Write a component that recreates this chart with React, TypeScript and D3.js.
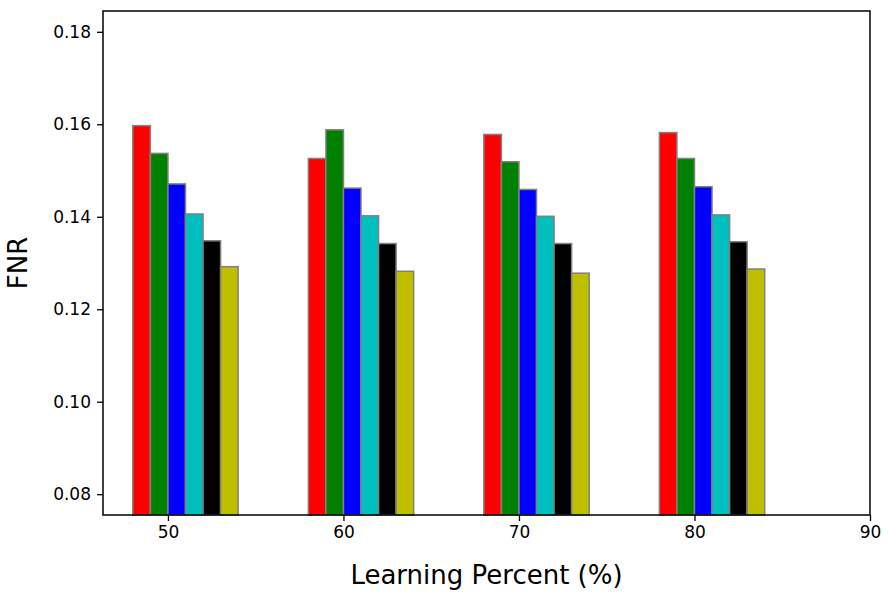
import { useEffect, useRef } from "react";
import * as d3 from "d3";

const groups = [50, 60, 70, 80];
const colors = ["#ff0000", "#008000", "#0000ff", "#00bfbf", "#000000", "#bfbf00"];
const red = [0.1597, 0.1526, 0.1578, 0.1582];
const green = [0.1537, 0.1588, 0.1519, 0.1526];
const blue = [0.1471, 0.1462, 0.1459, 0.1465];
const cyan = [0.1406, 0.1402, 0.1401, 0.1404];
const black = [0.1348, 0.1342, 0.1342, 0.1346];
const yellow = [0.1292, 0.1282, 0.1278, 0.1287];
const series = [red, green, blue, cyan, black, yellow];
const xTicks = [50, 60, 70, 80, 90];
const yTicks = [0.08, 0.1, 0.12, 0.14, 0.16, 0.18];

const App = () => {
  const ref = useRef<SVGSVGElement | null>(null);

  useEffect(() => {
    if (!ref.current) return;
    const svg = d3.select(ref.current);
    svg.selectAll("*").remove();
    const width = 889;
    const height = 598;
    const margin = { top: 11, right: 19, bottom: 83, left: 103 };
    const font = "DejaVu Sans, sans-serif";

    const x = d3.scaleLinear().domain([46.3, 90]).range([margin.left, width - margin.right]);
    const y = d3.scaleLinear().domain([0.0755, 0.1845]).range([height - margin.bottom, margin.top]);

    const bars: { x0: number; v: number; c: string }[] = [];
    series.forEach((s, i) =>
      s.forEach((v, g) => bars.push({ x0: groups[g] - 2 + i, v, c: colors[i] }))
    );

    svg
      .append("g")
      .selectAll("rect")
      .data(bars)
      .enter()
      .append("rect")
      .attr("x", (d) => x(d.x0))
      .attr("width", x(1) - x(0))
      .attr("y", (d) => y(d.v))
      .attr("height", (d) => y.range()[0] - y(d.v))
      .attr("fill", (d) => d.c)
      .attr("stroke", "#808080")
      .attr("stroke-width", 1.5);

    const xa = svg
      .append("g")
      .attr("transform", `translate(0,${height - margin.bottom})`)
      .call(d3.axisBottom(x).tickValues(xTicks).tickFormat(d3.format("d")).tickSize(6).tickPadding(5));
    const ya = svg
      .append("g")
      .attr("transform", `translate(${margin.left},0)`)
      .call(d3.axisLeft(y).tickValues(yTicks).tickFormat(d3.format(".2f")).tickSize(6).tickPadding(6));
    [xa, ya].forEach((a) => {
      a.select(".domain").remove();
      a.selectAll("line").attr("stroke", "#000").attr("stroke-width", 1.3);
      a.selectAll("text").attr("font-family", font).attr("font-size", 17).attr("fill", "#000");
    });

    svg
      .append("rect")
      .attr("x", margin.left)
      .attr("y", margin.top)
      .attr("width", width - margin.left - margin.right)
      .attr("height", height - margin.top - margin.bottom)
      .attr("fill", "none")
      .attr("stroke", "#000")
      .attr("stroke-width", 1.5);

    svg
      .append("text")
      .attr("x", (margin.left + width - margin.right) / 2)
      .attr("y", 584)
      .attr("text-anchor", "middle")
      .attr("font-family", font)
      .attr("font-size", 26)
      .text("Learning Percent (%)");

    svg
      .append("text")
      .attr("transform", `translate(27,${(margin.top + height - margin.bottom) / 2}) rotate(-90)`)
      .attr("text-anchor", "middle")
      .attr("font-family", font)
      .attr("font-size", 26)
      .text("FNR");
  }, []);

  return (
    <svg
      ref={ref}
      width={889}
      height={598}
      style={{ position: "absolute", left: 0, top: 0, background: "#fff" }}
    />
  );
};

export default App;
